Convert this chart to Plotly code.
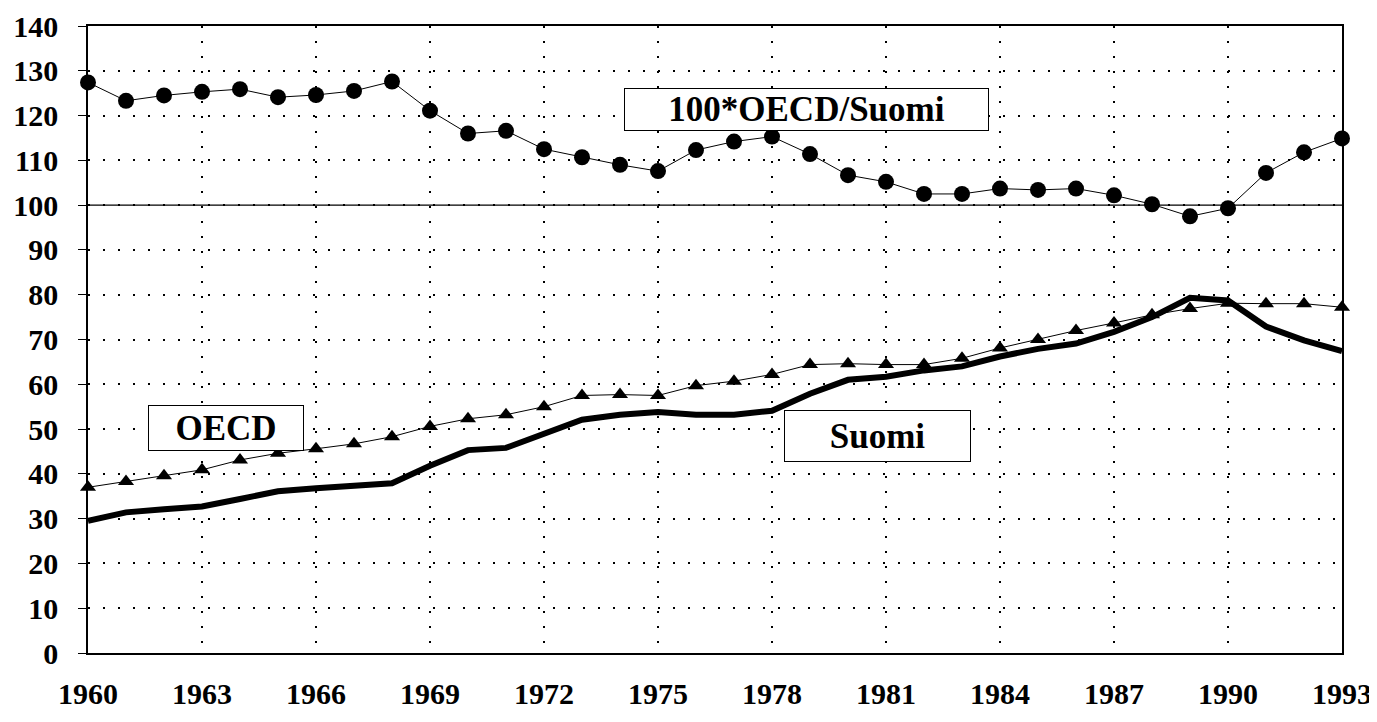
import plotly.graph_objects as go

years = list(range(1960, 1994))
ratio = [127.4, 123.3, 124.5, 125.3, 125.9, 124.1, 124.6, 125.5, 127.6, 121.1,
         116.0, 116.6, 112.5, 110.7, 109.0, 107.6, 112.3, 114.2, 115.3, 111.4,
         106.7, 105.2, 102.5, 102.5, 103.7, 103.4, 103.7, 102.2, 100.2, 97.5,
         99.3, 107.2, 111.8, 114.9]
oecd = [37.0, 38.3, 39.6, 40.9, 43.1, 44.6, 45.6, 46.7, 48.3, 50.6,
        52.3, 53.2, 55.0, 57.5, 57.7, 57.5, 59.7, 60.7, 62.2, 64.4,
        64.6, 64.4, 64.4, 65.8, 68.1, 70.0, 72.0, 73.7, 75.5, 76.9,
        78.1, 78.0, 78.0, 77.2]
suomi = [29.5, 31.4, 32.1, 32.7, 34.4, 36.1, 36.8, 37.4, 37.9, 41.8,
         45.3, 45.8, 49.1, 52.1, 53.2, 53.8, 53.2, 53.2, 54.1, 57.9,
         61.0, 61.7, 63.1, 64.0, 66.2, 67.9, 69.1, 71.7, 75.0, 79.3,
         78.7, 72.9, 69.8, 67.4]
x_ticks = list(range(1960, 1994, 3))
y_ticks = list(range(0, 141, 10))

FONT = "serif"

fig = go.Figure()
fig.add_trace(go.Scatter(x=years, y=suomi, mode="lines",
                         line=dict(color="black", width=6), name="Suomi",
                         cliponaxis=False))
fig.add_trace(go.Scatter(x=years, y=oecd, mode="lines+markers",
                         line=dict(color="black", width=1),
                         marker=dict(symbol="triangle-up", size=14, color="black"),
                         name="OECD", cliponaxis=False))
fig.add_trace(go.Scatter(x=years, y=ratio, mode="lines+markers",
                         line=dict(color="black", width=1),
                         marker=dict(symbol="circle", size=16, color="black"),
                         name="100*OECD/Suomi", cliponaxis=False))

fig.add_shape(type="line", xref="paper", x0=0, x1=1, yref="y", y0=100, y1=100,
              line=dict(color="black", width=1.2))

box = dict(showarrow=False, bordercolor="black", borderwidth=1, bgcolor="white",
           font=dict(family=FONT, size=35, color="black"))
fig.add_annotation(x=1978.9, y=121.3, text="<b>100*OECD/Suomi</b>",
                   width=361, height=39, **box)
fig.add_annotation(x=1963.64, y=50.3, text="<b>OECD</b>", width=152, height=42, **box)
fig.add_annotation(x=1980.78, y=48.4, text="<b>Suomi</b>", width=183, height=48, **box)

W, H = 1369, 714
fig.update_layout(
    width=W, height=H,
    margin=dict(l=80, r=35, t=18, b=69, autoexpand=False),
    paper_bgcolor="white", plot_bgcolor="white",
    showlegend=False,
    font=dict(family=FONT, color="black"),
)
fig.update_xaxes(range=[1960, 1993], tickmode="array", tickvals=x_ticks,
                 ticktext=[f"<b>{t}</b>" for t in x_ticks],
                 tickfont=dict(family=FONT, size=30, color="black"),
                 showgrid=True, gridcolor="black", griddash="2px,13px", gridwidth=1.5,
                 showline=True, linecolor="black", linewidth=1.5, mirror=True,
                 ticks="", ticklabelstandoff=13, zeroline=False, automargin=False)
fig.update_yaxes(range=[0, 140], tickmode="array", tickvals=y_ticks,
                 ticktext=[f"<b>{t}</b>" for t in y_ticks],
                 tickfont=dict(family=FONT, size=30, color="black"),
                 showgrid=True, gridcolor="black", griddash="2px,13px", gridwidth=1.5,
                 showline=True, linecolor="black", linewidth=1.5, mirror=True,
                 ticks="outside", ticklen=8, tickcolor="black",
                 ticklabelstandoff=14, zeroline=False, automargin=False)

fig.write_html("out.html")
